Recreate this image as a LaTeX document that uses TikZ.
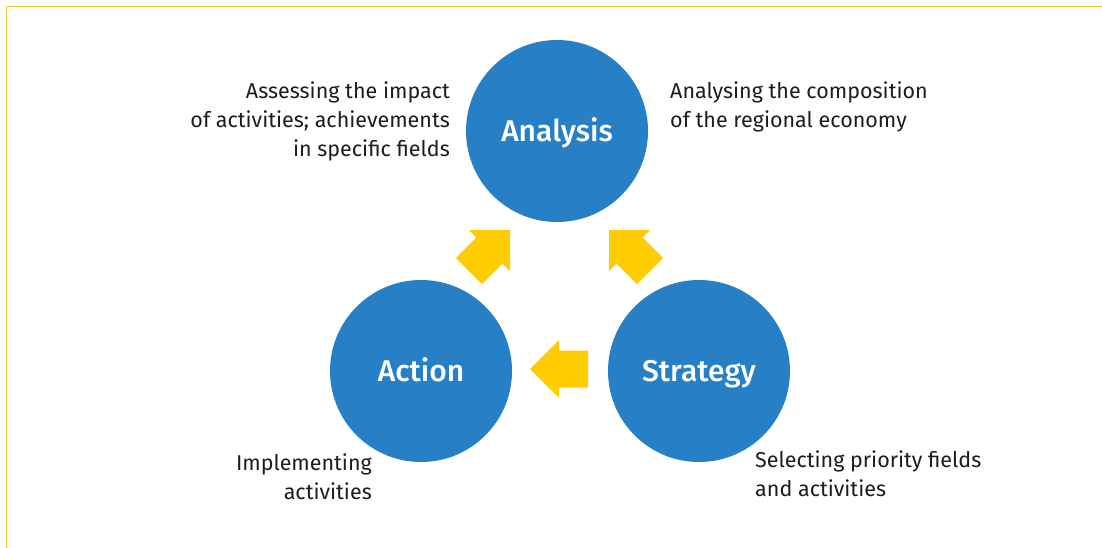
\documentclass[tikz,border=0pt]{standalone}
\usepackage{fontspec}
\setmainfont{Fira Sans}
\newfontfamily\medfont{Fira Sans Medium}
\definecolor{cblue}{HTML}{2780C5}
\definecolor{cyellow}{HTML}{FFCC00}
\definecolor{frame}{HTML}{F8C630}
\definecolor{txt}{HTML}{1D1D1B}
\begin{document}
\begin{tikzpicture}[x=1pt,y=-1pt,
  stage/.style={circle,fill=cblue,draw=none,minimum size=182pt,inner sep=0pt,text=white,text height=21pt,text depth=0pt,font=\fontsize{30}{33}\selectfont\medfont},
  lbl/.style={text=txt,font=\fontsize{21.5}{29}\selectfont,inner sep=0pt},
  blockarrow/.style={fill=cyellow,draw=none}]
\useasboundingbox (0,0) rectangle (1102,548);
\fill[white] (0,0) rectangle (1102,548);
\draw[frame,line width=1.4pt] (6.5,548) -- (6.5,6.5) -- (1102,6.5);

\node[stage] (analysis) at (557,131) {Analysis};
\node[stage] (action) at (421,371) {Action};
\node[stage] (strategy) at (699,371) {Strategy};

\node[lbl,anchor=north east,align=right] (l1) at (450,82) {Assessing the impact\\of activities; achievements\\in specific fields};
\node[lbl,anchor=north west,align=left] (l2) at (670,82) {Analysing the composition\\of the regional economy};
\node[lbl,anchor=north east,align=right] (l3) at (372,454) {Implementing\\activities};
\node[lbl,anchor=north west,align=left] (l4) at (755,451) {Selecting priority fields\\and activities};

\coordinate (t1) at (510,230);
\coordinate (t2) at (609,230);
\coordinate (t3) at (530,369);
\foreach \t/\a in {t1/45,t2/135,t3/180}{
  \fill[blockarrow,shift={(\t)},rotate=\a]
    (0,0) -- (-29,-29) -- (-29,-18.5) -- (-58,-18.5) -- (-58,18.5) -- (-29,18.5) -- (-29,29) -- cycle;
}
\end{tikzpicture}
\end{document}
